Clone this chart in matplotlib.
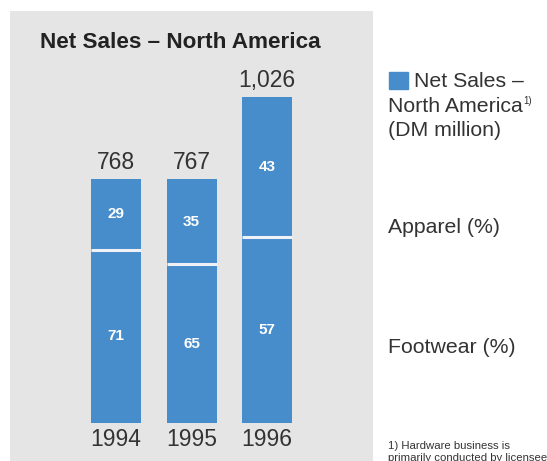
import matplotlib
matplotlib.use("Agg")
import matplotlib.pyplot as plt
from matplotlib.patches import Rectangle

years = ["1994", "1995", "1996"]
net_sales = [768, 767, 1026]          # DM million
footwear_pct = [71, 65, 57]
apparel_pct = [29, 35, 43]
sales_labels = ["768", "767", "1,026"]

BLUE = "#488dcb"
GRAY = "#e5e5e5"
TXT = "#333333"
FONT = "Liberation Sans"

W, H = 547, 461
fig = plt.figure(figsize=(W / 100, H / 100), dpi=100)
fig.patch.set_facecolor("white")

def fx(px):
    return px / W

def fy(py):
    return 1 - py / H

# gray panel axes: pixels x 10..373, y 11..461
ax = fig.add_axes([fx(10), fy(461), fx(373) - fx(10), fy(11) - fy(461)])
ax.set_facecolor(GRAY)
for s in ax.spines.values():
    s.set_visible(False)
ax.set_xticks([])
ax.set_yticks([])

px_per_unit_y = 325.7 / 1026.0
ax.set_ylim(-(461 - 422.7) / px_per_unit_y, (422.7 - 11) / px_per_unit_y)
step = 75.5
ax.set_xlim((10 - 116) / step, (373 - 116) / step)
bw = 50 / step

xs = list(range(len(years)))
foot_vals = [t * f / 100 for t, f in zip(net_sales, footwear_pct)]
app_vals = [t * a / 100 for t, a in zip(net_sales, apparel_pct)]

ax.bar(xs, foot_vals, width=bw, color=BLUE, linewidth=0)
ax.bar(xs, app_vals, bottom=foot_vals, width=bw, color=BLUE, linewidth=0)
# separator lines
for x, fv in zip(xs, foot_vals):
    ax.plot([x - bw / 2, x + bw / 2], [fv, fv], color="#eef2f6", lw=2.2,
            solid_capstyle="butt")

for x, fv, av, fp, ap, tot, lab, yr in zip(xs, foot_vals, app_vals, footwear_pct,
                                           apparel_pct, net_sales, sales_labels, years):
    ax.text(x, fv / 2, str(fp), ha="center", va="center", color="white",
            fontsize=11, fontweight="bold", family=FONT)
    ax.text(x, fv + av / 2, str(ap), ha="center", va="center", color="white",
            fontsize=11, fontweight="bold", family=FONT)
    ax.annotate(lab, (x, tot), xytext=(0, 7.4), textcoords="offset points",
                ha="center", va="baseline", fontsize=16.5, color=TXT, family=FONT)
    ax.annotate(yr, (x, 0), xytext=(0, -16.8), textcoords="offset points",
                ha="center", va="baseline", fontsize=16.5, color=TXT, family=FONT)

fig.text(fx(40), fy(48), "Net Sales – North America", ha="left", va="baseline",
         fontsize=16.2, fontweight="bold", color="#222222", family=FONT)

# legend-like side text
fig.patches.append(Rectangle((fx(389), fy(89)), fx(408) - fx(389), fy(72) - fy(89),
                             transform=fig.transFigure, color=BLUE, figure=fig))
fig.text(fx(414), fy(87), "Net Sales –", ha="left", va="baseline",
         fontsize=15.3, color=TXT, family=FONT)
t = fig.text(fx(388), fy(112), "North America", ha="left", va="baseline",
             fontsize=15.3, color=TXT, family=FONT)
fig.canvas.draw()
bb = t.get_window_extent()
fig.text(bb.x1 / W + 0.001, fy(104), "1)", ha="left", va="baseline",
         fontsize=7, color=TXT, family=FONT)
fig.text(fx(388), fy(136), "(DM million)", ha="left", va="baseline",
         fontsize=15.3, color=TXT, family=FONT)
fig.text(fx(388), fy(233), "Apparel (%)", ha="left", va="baseline",
         fontsize=15.3, color=TXT, family=FONT)
fig.text(fx(388), fy(353), "Footwear (%)", ha="left", va="baseline",
         fontsize=15.3, color=TXT, family=FONT)
fig.text(fx(388), fy(449), "1) Hardware business is", ha="left", va="baseline",
         fontsize=8.2, color=TXT, family=FONT)
fig.text(fx(388), fy(461), "primarily conducted by licensees", ha="left", va="baseline",
         fontsize=8.2, color=TXT, family=FONT)

fig.savefig("out.png", dpi=100)
